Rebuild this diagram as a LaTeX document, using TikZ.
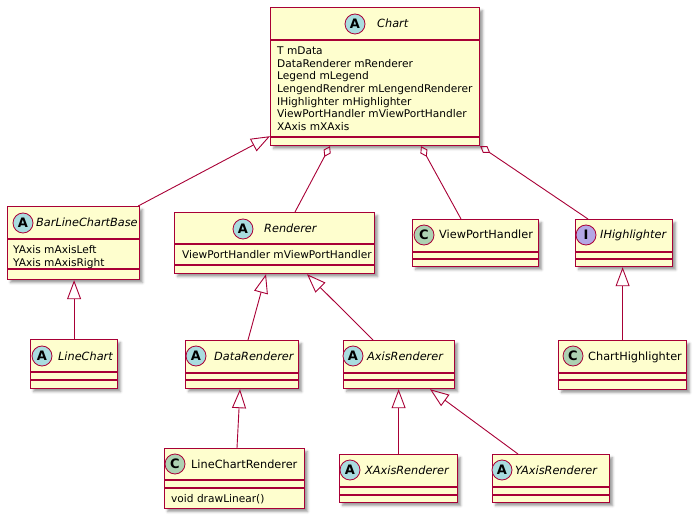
\documentclass[tikz,border=0pt]{standalone}
\usepackage{fontspec}
\setmainfont{DejaVu Sans}
\usetikzlibrary{arrows.meta,calc,shadows.blur}
\definecolor{umlred}{HTML}{A80036}
\definecolor{umlfill}{HTML}{FEFECE}
\definecolor{circA}{HTML}{A9DCDF}
\definecolor{circC}{HTML}{ADD1B2}
\definecolor{circI}{HTML}{B4A7E5}
\tikzset{
  cls/.style={draw=umlred, fill=umlfill, line width=1.2pt, anchor=north west, inner sep=0pt,
    blur shadow={shadow xshift=3pt, shadow yshift=-3pt, shadow blur radius=2.5pt, shadow opacity=40}},
  sepline/.style={draw=umlred, line width=1.2pt},
  circ/.style={circle, draw=umlred, line width=0.8pt, minimum size=20pt, inner sep=0pt,
    font=\fontsize{13}{13}\selectfont\bfseries},
  kA/.style={circ, fill=circA},
  kC/.style={circ, fill=circC},
  kI/.style={circ, fill=circI},
  cname/.style={anchor=base west, inner sep=0pt, font=\fontsize{11.3}{13}\selectfont},
  aname/.style={anchor=base west, inner sep=0pt, font=\fontsize{11.3}{13}\selectfont\itshape},
  attrs/.style={anchor=north west, inner sep=0pt, align=left, font=\fontsize{10.6}{12.7}\selectfont},
  inh/.style={draw=umlred, line width=0.9pt, -{Triangle[open, length=19pt, width=14pt]}},
  agg/.style={draw=umlred, line width=0.9pt, {Diamond[open, length=12pt, width=8pt]}-},
}
\newcommand\clsseps[3]{%
  \draw[sepline] ($(#1.north west)+(0,#2)$) -- ($(#1.north east)+(0,#2)$);
  \draw[sepline] ($(#1.north west)+(0,#3)$) -- ($(#1.north east)+(0,#3)$);}
\begin{document}
\begin{tikzpicture}[x=1pt, y=-1pt]
\useasboundingbox (0,0) rectangle (698,521);

% Chart
\node[cls, minimum width=209pt, minimum height=138pt] (chart) at (270,7) {};
\clsseps{chart}{33}{130}
\node[kA] (chartk) at (355,24) {A};
\node[aname] (chartn) at (377,28) {Chart};
\node[attrs] (charta) at (277,46.5) {T mData\\DataRenderer mRenderer\\Legend mLegend\\LengendRendrer mLengendRenderer\\IHighlighter mHighlighter\\ViewPortHandler mViewPortHandler\\XAxis mXAxis};

% BarLineChartBase
\node[cls, minimum width=132pt, minimum height=73pt] (barline) at (7,206) {};
\clsseps{barline}{33}{63}
\node[kA] (barlinek) at (23,223) {A};
\node[aname] (barlinen) at (36,227) {BarLineChartBase};
\node[attrs] (barlinea) at (13,245.5) {YAxis mAxisLeft\\YAxis mAxisRight};

% LineChart
\node[cls, minimum width=87pt, minimum height=49pt] (linechart) at (30,339) {};
\clsseps{linechart}{33}{41}
\node[kA] (linechartk) at (42,356) {A};
\node[aname] (linechartn) at (58,360) {LineChart};

% Renderer
\node[cls, minimum width=200pt, minimum height=61pt] (renderer) at (174,212) {};
\clsseps{renderer}{32}{53}
\node[kA] (rendererk) at (243,229) {A};
\node[aname] (renderern) at (264,233) {Renderer};
\node[attrs] (renderera) at (182,250.5) {ViewPortHandler mViewPortHandler};

% ViewPortHandler
\node[cls, minimum width=126pt, minimum height=47pt] (vph) at (412,219) {};
\clsseps{vph}{33}{40}
\node[kC] (vphk) at (424,235) {C};
\node[cname] (vphn) at (439,239) {ViewPortHandler};

% IHighlighter
\node[cls, minimum width=97pt, minimum height=47pt] (ihl) at (575,219) {};
\clsseps{ihl}{33}{40}
\node[kI] (ihlk) at (586,235) {I};
\node[aname] (ihln) at (600,239) {IHighlighter};

% ChartHighlighter
\node[cls, minimum width=128pt, minimum height=49pt] (chl) at (558,340) {};
\clsseps{chl}{33}{40}
\node[kC] (chlk) at (573,356) {C};
\node[cname] (chln) at (588,360) {ChartHighlighter};

% DataRenderer
\node[cls, minimum width=113pt, minimum height=48pt] (datar) at (185,340) {};
\clsseps{datar}{33}{40}
\node[kA] (datark) at (196,356) {A};
\node[aname] (datarn) at (214,360) {DataRenderer};

% AxisRenderer
\node[cls, minimum width=111pt, minimum height=48pt] (axisr) at (343,340) {};
\clsseps{axisr}{33}{40}
\node[kA] (axisrk) at (353,356) {A};
\node[aname] (axisrn) at (367,360) {AxisRenderer};

% LineChartRenderer
\node[cls, minimum width=140pt, minimum height=60pt] (lcr) at (164,448) {};
\clsseps{lcr}{32}{40}
\node[kC] (lcrk) at (175,464) {C};
\node[cname] (lcrn) at (191,468) {LineChartRenderer};
\node[attrs] (lcra) at (171,494.5) {void drawLinear()};

% XAxisRenderer
\node[cls, minimum width=118pt, minimum height=48pt] (xar) at (339,454) {};
\clsseps{xar}{33}{41}
\node[kA] (xark) at (350,470) {A};
\node[aname] (xarn) at (365,474) {XAxisRenderer};

% YAxisRenderer
\node[cls, minimum width=117pt, minimum height=48pt] (yar) at (492,454) {};
\clsseps{yar}{33}{41}
\node[kA] (yark) at (502,470) {A};
\node[aname] (yarn) at (515,474) {YAxisRenderer};

% connectors
\draw[inh] ($(barline.north east)+(-2,0)$) -- ($(chart.south west)+(0,-10)$);
\draw[agg] ($(chart.south west)+(60,0)$) -- ($(renderer.north west)+(121,0)$);
\draw[agg] ($(chart.south west)+(151,0)$) -- ($(vph.north west)+(49,0)$);
\draw[agg] (chart.south east) -- ($(ihl.north west)+(13,0)$);
\draw[inh] (linechart.north) -- (linechart.north |- barline.south);
\draw[inh] ($(datar.north west)+(63,0)$) -- ($(renderer.south west)+(92,0)$);
\draw[inh] ($(axisr.north west)+(30,0)$) -- ($(renderer.south west)+(133,0)$);
\draw[inh] (chl.north) -- (chl.north |- ihl.south);
\draw[inh] ($(lcr.north west)+(73,0)$) -- ($(datar.south west)+(55,0)$);
\draw[inh] (xar.north) -- (xar.north |- axisr.south);
\draw[inh] ($(yar.north west)+(26,0)$) -- ($(axisr.south west)+(87,0)$);
\end{tikzpicture}
\end{document}
